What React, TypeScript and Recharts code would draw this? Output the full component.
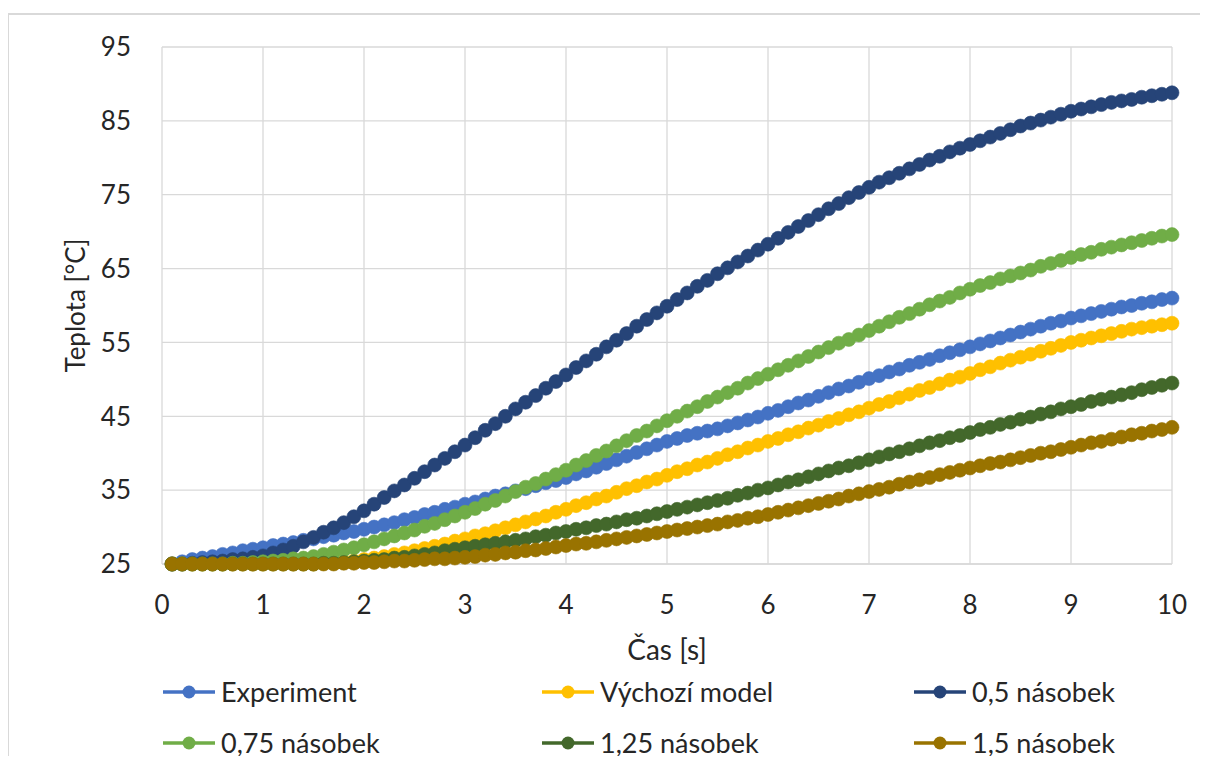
import React from "react";
import { LineChart, Line, XAxis, YAxis, CartesianGrid, Label } from "recharts";

// Time samples [s]
const TIME = [
  0.1, 0.2, 0.3, 0.4, 0.5, 0.6, 0.7, 0.8, 0.9, 1.0,
  1.1, 1.2, 1.3, 1.4, 1.5, 1.6, 1.7, 1.8, 1.9, 2.0,
  2.1, 2.2, 2.3, 2.4, 2.5, 2.6, 2.7, 2.8, 2.9, 3.0,
  3.1, 3.2, 3.3, 3.4, 3.5, 3.6, 3.7, 3.8, 3.9, 4.0,
  4.1, 4.2, 4.3, 4.4, 4.5, 4.6, 4.7, 4.8, 4.9, 5.0,
  5.1, 5.2, 5.3, 5.4, 5.5, 5.6, 5.7, 5.8, 5.9, 6.0,
  6.1, 6.2, 6.3, 6.4, 6.5, 6.6, 6.7, 6.8, 6.9, 7.0,
  7.1, 7.2, 7.3, 7.4, 7.5, 7.6, 7.7, 7.8, 7.9, 8.0,
  8.1, 8.2, 8.3, 8.4, 8.5, 8.6, 8.7, 8.8, 8.9, 9.0,
  9.1, 9.2, 9.3, 9.4, 9.5, 9.6, 9.7, 9.8, 9.9, 10.0,
];

// Temperatures [°C]
const EXPERIMENT = [
  25.0, 25.3, 25.6, 25.8, 26.0, 26.3, 26.5, 26.8, 27.0, 27.2,
  27.5, 27.7, 27.9, 28.2, 28.4, 28.7, 28.9, 29.2, 29.4, 29.7,
  30.0, 30.3, 30.6, 31.0, 31.3, 31.7, 32.0, 32.4, 32.7, 33.1,
  33.4, 33.8, 34.2, 34.5, 34.9, 35.2, 35.6, 36.0, 36.3, 36.7,
  37.2, 37.6, 38.1, 38.6, 39.1, 39.6, 40.1, 40.6, 41.1, 41.6,
  42.0, 42.4, 42.7, 43.0, 43.3, 43.7, 44.1, 44.5, 44.9, 45.4,
  45.8, 46.3, 46.8, 47.2, 47.7, 48.2, 48.7, 49.1, 49.6, 50.1,
  50.5, 51.0, 51.4, 51.9, 52.3, 52.7, 53.2, 53.6, 54.0, 54.4,
  54.8, 55.2, 55.6, 56.0, 56.4, 56.8, 57.2, 57.6, 57.9, 58.3,
  58.6, 58.9, 59.2, 59.5, 59.8, 60.0, 60.3, 60.5, 60.8, 61.0,
];

const VYCHOZI_MODEL = [
  25.0, 25.0, 25.0, 25.0, 25.0, 25.0, 25.0, 25.0, 25.0, 25.0,
  25.0, 25.0, 25.0, 25.0, 25.0, 25.1, 25.2, 25.3, 25.4, 25.6,
  25.8, 26.0, 26.3, 26.5, 26.8, 27.1, 27.4, 27.7, 28.1, 28.4,
  28.8, 29.1, 29.5, 29.9, 30.3, 30.7, 31.1, 31.5, 32.0, 32.4,
  32.9, 33.3, 33.8, 34.2, 34.7, 35.2, 35.6, 36.1, 36.5, 37.0,
  37.5, 37.9, 38.4, 38.8, 39.3, 39.8, 40.2, 40.7, 41.1, 41.6,
  42.0, 42.5, 42.9, 43.4, 43.8, 44.3, 44.7, 45.2, 45.6, 46.1,
  46.6, 47.0, 47.5, 48.0, 48.5, 48.9, 49.4, 49.9, 50.3, 50.8,
  51.3, 51.7, 52.2, 52.6, 53.0, 53.4, 53.8, 54.2, 54.6, 55.0,
  55.3, 55.6, 55.9, 56.2, 56.5, 56.8, 57.0, 57.2, 57.4, 57.6,
];

const NASOBEK_0_5 = [
  25.0, 25.0, 25.1, 25.2, 25.3, 25.4, 25.6, 25.7, 25.9, 26.1,
  26.5, 26.9, 27.4, 28.0, 28.6, 29.3, 29.9, 30.6, 31.4, 32.2,
  33.1, 34.0, 34.9, 35.7, 36.6, 37.5, 38.4, 39.3, 40.2, 41.1,
  42.1, 43.1, 44.0, 45.0, 46.0, 46.9, 47.8, 48.8, 49.7, 50.6,
  51.6, 52.5, 53.4, 54.4, 55.3, 56.2, 57.2, 58.1, 59.0, 59.9,
  60.8, 61.7, 62.6, 63.4, 64.3, 65.1, 65.9, 66.7, 67.5, 68.3,
  69.1, 69.9, 70.7, 71.5, 72.3, 73.1, 73.8, 74.6, 75.3, 76.0,
  76.7, 77.3, 77.9, 78.5, 79.1, 79.7, 80.2, 80.8, 81.3, 81.8,
  82.3, 82.8, 83.3, 83.8, 84.3, 84.7, 85.1, 85.5, 85.9, 86.3,
  86.6, 86.9, 87.2, 87.5, 87.7, 87.9, 88.2, 88.4, 88.6, 88.8,
];

const NASOBEK_0_75 = [
  25.0, 25.0, 25.0, 25.0, 25.0, 25.0, 25.1, 25.1, 25.2, 25.3,
  25.4, 25.5, 25.7, 25.8, 26.0, 26.3, 26.6, 26.9, 27.2, 27.6,
  28.0, 28.4, 28.8, 29.2, 29.6, 30.1, 30.5, 31.0, 31.5, 32.0,
  32.5, 33.1, 33.6, 34.2, 34.8, 35.4, 35.9, 36.5, 37.1, 37.7,
  38.4, 39.0, 39.7, 40.3, 41.0, 41.7, 42.4, 43.0, 43.7, 44.4,
  45.0, 45.7, 46.3, 47.0, 47.6, 48.2, 48.8, 49.5, 50.1, 50.7,
  51.3, 51.9, 52.5, 53.1, 53.7, 54.3, 54.9, 55.4, 56.0, 56.6,
  57.2, 57.8, 58.4, 58.9, 59.5, 60.1, 60.6, 61.1, 61.7, 62.2,
  62.7, 63.1, 63.6, 64.0, 64.4, 64.8, 65.3, 65.7, 66.1, 66.5,
  66.9, 67.2, 67.6, 67.9, 68.2, 68.5, 68.8, 69.1, 69.4, 69.6,
];

const NASOBEK_1_25 = [
  25.0, 25.0, 25.0, 25.0, 25.0, 25.0, 25.0, 25.0, 25.0, 25.0,
  25.0, 25.0, 25.0, 25.0, 25.0, 25.1, 25.1, 25.2, 25.3, 25.4,
  25.5, 25.6, 25.8, 25.9, 26.1, 26.3, 26.5, 26.8, 27.0, 27.2,
  27.4, 27.6, 27.8, 28.0, 28.2, 28.4, 28.7, 28.9, 29.2, 29.4,
  29.7, 29.9, 30.2, 30.4, 30.7, 31.0, 31.2, 31.5, 31.8, 32.1,
  32.4, 32.7, 33.0, 33.3, 33.6, 33.9, 34.3, 34.6, 35.0, 35.3,
  35.7, 36.1, 36.4, 36.8, 37.2, 37.6, 38.0, 38.3, 38.7, 39.1,
  39.5, 39.9, 40.2, 40.6, 41.0, 41.4, 41.7, 42.1, 42.4, 42.8,
  43.2, 43.5, 43.9, 44.2, 44.6, 44.9, 45.3, 45.6, 46.0, 46.3,
  46.6, 47.0, 47.3, 47.6, 47.9, 48.2, 48.6, 48.9, 49.2, 49.5,
];

const NASOBEK_1_5 = [
  25.0, 25.0, 25.0, 25.0, 25.0, 25.0, 25.0, 25.0, 25.0, 25.0,
  25.0, 25.0, 25.0, 25.0, 25.0, 25.0, 25.0, 25.1, 25.1, 25.2,
  25.2, 25.3, 25.4, 25.4, 25.5, 25.6, 25.7, 25.7, 25.8, 25.9,
  26.0, 26.2, 26.3, 26.5, 26.6, 26.8, 26.9, 27.1, 27.3, 27.5,
  27.7, 27.8, 28.0, 28.2, 28.4, 28.6, 28.8, 29.0, 29.2, 29.4,
  29.6, 29.8, 30.0, 30.2, 30.4, 30.7, 30.9, 31.2, 31.4, 31.7,
  32.0, 32.3, 32.6, 32.9, 33.2, 33.5, 33.8, 34.2, 34.5, 34.8,
  35.1, 35.4, 35.8, 36.1, 36.4, 36.7, 37.1, 37.4, 37.7, 38.0,
  38.3, 38.6, 38.8, 39.1, 39.4, 39.7, 40.0, 40.2, 40.5, 40.8,
  41.1, 41.4, 41.6, 41.9, 42.2, 42.5, 42.7, 43.0, 43.2, 43.5,
];

const X_TICKS = [0, 1, 2, 3, 4, 5, 6, 7, 8, 9, 10];
const Y_TICKS = [25, 35, 45, 55, 65, 75, 85, 95];

const SERIES = [
  { key: "experiment", name: "Experiment", color: "#4472C4", values: EXPERIMENT },
  { key: "vychozi", name: "Výchozí model", color: "#FFC000", values: VYCHOZI_MODEL },
  { key: "n050", name: "0,5 násobek", color: "#264478", values: NASOBEK_0_5 },
  { key: "n075", name: "0,75 násobek", color: "#70AD47", values: NASOBEK_0_75 },
  { key: "n125", name: "1,25 násobek", color: "#43682B", values: NASOBEK_1_25 },
  { key: "n150", name: "1,5 násobek", color: "#997300", values: NASOBEK_1_5 },
];

const rows = TIME.map((t, i) => {
  const row: Record<string, number> = { t };
  SERIES.forEach((s) => {
    row[s.key] = s.values[i];
  });
  return row;
});

const FONT = "Lato, 'Open Sans', sans-serif";
const TEXT = "#262626";
const GRID = "#D9D9D9";

function YTitle(props: any) {
  const vb = props.viewBox || {};
  const cx = vb.x - 27;
  const cy = vb.y + vb.height / 2;
  return (
    <text
      x={cx}
      y={cy}
      transform={`rotate(-90, ${cx}, ${cy})`}
      textAnchor="middle"
      dominantBaseline="central"
      fill={TEXT}
      fontSize={26}
      fontFamily={FONT}
    >
      Teplota [°C]
    </text>
  );
}

function XTitle(props: any) {
  const vb = props.viewBox || {};
  return (
    <text
      x={vb.x + vb.width / 2}
      y={vb.y + 96}
      textAnchor="middle"
      fill={TEXT}
      fontSize={28}
      fontFamily={FONT}
    >
      Čas [s]
    </text>
  );
}

function LegendItem({ name, color }: { name: string; color: string }) {
  return (
    <div style={{ display: "flex", alignItems: "center", height: 30 }}>
      <svg width={54} height={20} style={{ display: "block" }}>
        <line x1={1} y1={10} x2={53} y2={10} stroke={color} strokeWidth={3.5} />
        <circle cx={27} cy={10} r={6.5} fill={color} />
      </svg>
      <span
        style={{
          marginLeft: 5,
          fontFamily: FONT,
          fontSize: 27,
          color: TEXT,
          whiteSpace: "nowrap",
          lineHeight: "30px",
        }}
      >
        {name}
      </span>
    </div>
  );
}

const LEGEND_COLS = [154, 533, 905];
const LEGEND_ROWS = [669, 720];

export default function App() {
  return (
    <div
      style={{
        position: "relative",
        width: 1192,
        height: 756,
        marginBottom: -8,
        overflow: "hidden",
        background: "#fff",
        fontFamily: FONT,
      }}
    >
      <div
        style={{
          position: "absolute",
          left: -1,
          top: 5,
          width: 1400,
          height: 1000,
          borderLeft: `2px solid ${GRID}`,
          borderTop: `2px solid ${GRID}`,
          boxSizing: "border-box",
        }}
      />
      <div style={{ position: "absolute", left: 1, top: 7 }}>
        <LineChart
          width={1190}
          height={665}
          data={rows}
          margin={{ top: 32, right: 27, left: 93, bottom: 16 }}
        >
          <CartesianGrid stroke={GRID} strokeWidth={1.3} />
          <XAxis
            dataKey="t"
            type="number"
            domain={[0, 10]}
            ticks={X_TICKS}
            interval={0}
            height={100}
            tickLine={false}
            axisLine={{ stroke: GRID, strokeWidth: 1.3 }}
            tickMargin={26}
            tick={{ fill: TEXT, fontSize: 26, fontFamily: FONT }}
          >
            <Label content={<XTitle />} />
          </XAxis>
          <YAxis
            type="number"
            domain={[25, 95]}
            ticks={Y_TICKS}
            interval={0}
            width={60}
            tickLine={false}
            axisLine={false}
            tickMargin={25}
            tick={{ fill: TEXT, fontSize: 26, fontFamily: FONT }}
          >
            <Label content={<YTitle />} />
          </YAxis>
          {SERIES.map((s) => (
            <Line
              key={s.key}
              dataKey={s.key}
              name={s.name}
              type="monotone"
              stroke={s.color}
              strokeWidth={3}
              dot={{ r: 7, fill: s.color, stroke: s.color, strokeWidth: 0.6 }}
              activeDot={false}
              isAnimationActive={false}
            />
          ))}
        </LineChart>
      </div>
      {SERIES.map((s, i) => (
        <div
          key={s.key}
          style={{
            position: "absolute",
            left: LEGEND_COLS[i % 3],
            top: LEGEND_ROWS[Math.floor(i / 3)],
          }}
        >
          <LegendItem name={s.name} color={s.color} />
        </div>
      ))}
    </div>
  );
}
